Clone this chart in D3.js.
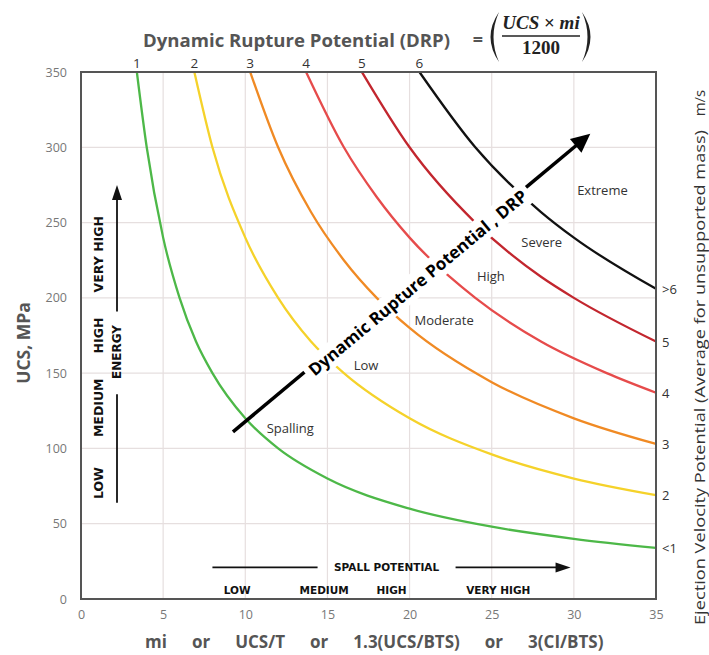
<!DOCTYPE html>
<html>
<head>
<meta charset="utf-8">
<script src="https://cdn.jsdelivr.net/npm/d3@7"></script>
<style>
  body { margin: 0; background: #fff; }
  svg { display: block; }
</style>
</head>
<body>
<div id="chart"></div>
<script>
// values (mi, UCS in MPa) for each DRP curve
const mi1 = [3.4, 4, 5, 6, 7, 8, 10, 12, 15, 20, 25, 30, 35];
const ucs1 = [350, 300, 240, 200, 171, 150, 120, 100, 80, 60, 48, 40, 34];
const mi2 = [6.9, 8, 10, 12, 14, 16, 20, 25, 30, 35];
const ucs2 = [350, 300, 240, 200, 171, 150, 120, 96, 80, 69];
const mi3 = [10.3, 12, 14, 16, 18, 20, 25, 30, 35];
const ucs3 = [350, 300, 257, 225, 200, 180, 144, 120, 103];
const mi4 = [13.7, 16, 18, 20, 24, 28, 32, 35];
const ucs4 = [350, 300, 267, 240, 200, 171, 150, 137];
const mi5 = [17.1, 20, 24, 28, 30, 35];
const ucs5 = [350, 300, 250, 214, 200, 171];
const mi6 = [20.6, 24, 28, 30, 35];
const ucs6 = [350, 300, 257, 240, 206];

const drpLabels = ["1", "2", "3", "4", "5", "6"];
const velocityLabels = ["<1", "2", "3", "4", "5", ">6"];
const zoneLabels = ["Spalling", "Low", "Moderate", "High", "Severe", "Extreme"];
const zoneMi = [11.3, 16.6, 20.3, 24.1, 26.8, 30.2];
const zoneUcs = [110, 152, 182, 211, 234, 268];
const xTicks = [0, 5, 10, 15, 20, 25, 30, 35];
const yTicks = [0, 50, 100, 150, 200, 250, 300, 350];
const energyLabels = ["LOW", "MEDIUM", "HIGH", "VERY HIGH"];
const energyUcs = [77, 127, 175, 229];
const spallLabels = ["LOW", "MEDIUM", "HIGH", "VERY HIGH"];
const spallMi = [9.5, 14.8, 18.9, 25.4];
const xTitleParts = ["mi", "or", "UCS/T", "or", "1.3(UCS/BTS)", "or", "3(CI/BTS)"];

const colors = ["#4db848", "#f5d22a", "#f08a24", "#e64b4b", "#c2262e", "#111111"];
const font = "Open Sans";

const dim = { width: 709, height: 655, mLeft: 81, mTop: 72, mRight: 53, mBottom: 56 };
const svg = d3.select("#chart").append("svg")
  .attr("width", dim.width)
  .attr("height", dim.height);

const x = d3.scaleLinear().domain([0, 35]).range([dim.mLeft, dim.width - dim.mRight]);
const y = d3.scaleLinear().domain([0, 350]).range([dim.height - dim.mBottom, dim.mTop]);

// grid
svg.append("g").selectAll("line.v").data(xTicks.slice(1, -1)).enter().append("line")
  .attr("x1", d => x(d)).attr("x2", d => x(d))
  .attr("y1", y(0)).attr("y2", y(350))
  .style("stroke", "#e6dfdf").style("stroke-width", 1.2);
svg.append("g").selectAll("line.h").data(yTicks.slice(1, -1)).enter().append("line")
  .attr("x1", x(0)).attr("x2", x(35))
  .attr("y1", d => y(d)).attr("y2", d => y(d))
  .style("stroke", "#e6dfdf").style("stroke-width", 1.2);

// axes (labels only)
const xAxis = svg.append("g")
  .attr("transform", "translate(0," + y(0) + ")")
  .call(d3.axisBottom(x).tickValues(xTicks).tickSize(0).tickPadding(11));
const yAxis = svg.append("g")
  .attr("transform", "translate(" + x(0) + ",0)")
  .call(d3.axisLeft(y).tickValues(yTicks).tickSize(0).tickPadding(14));
[xAxis, yAxis].forEach(a => {
  a.select(".domain").remove();
  a.selectAll("text").style("font-family", font).style("font-size", "12.5px").style("fill", "#777");
});

// curves
const series = [[mi1, ucs1], [mi2, ucs2], [mi3, ucs3], [mi4, ucs4], [mi5, ucs5], [mi6, ucs6]];
const line = d3.line().x(d => x(d[0])).y(d => y(d[1])).curve(d3.curveMonotoneX);
series.forEach(function (s, i) {
  const pts = s[0].map((m, j) => [m, s[1][j]]);
  svg.append("path").datum(pts)
    .attr("d", line)
    .style("fill", "none")
    .style("stroke", colors[i])
    .style("stroke-width", 2.3);
  // DRP number above the plot
  svg.append("text")
    .attr("x", x(pts[0][0]))
    .attr("y", y(350) - 4)
    .attr("text-anchor", "middle")
    .text(drpLabels[i])
    .style("font-family", font).style("font-size", "13.5px").style("fill", "#333");
  // velocity label on the right
  const last = pts[pts.length - 1];
  svg.append("text")
    .attr("x", x(last[0]) + 6)
    .attr("y", y(last[1]) + 5)
    .text(velocityLabels[i])
    .style("font-family", font).style("font-size", "13px").style("fill", "#333");
});

// zone labels
svg.append("g").selectAll("text").data(zoneLabels).enter().append("text")
  .attr("x", (d, i) => x(zoneMi[i]))
  .attr("y", (d, i) => y(zoneUcs[i]))
  .text(d => d)
  .style("font-family", font).style("font-size", "13px").style("fill", "#333");

// plot frame
svg.append("rect")
  .attr("x", x(0)).attr("y", y(350))
  .attr("width", x(35) - x(0)).attr("height", y(0) - y(350))
  .style("fill", "none").style("stroke", "#555").style("stroke-width", 2);

// diagonal DRP arrow
const a0 = [x(9.25), y(111)];
const a1 = [x(31.0), y(309)];
const rad = Math.atan2(a1[1] - a0[1], a1[0] - a0[0]);
const ang = rad * 180 / Math.PI;
const hl = 19;
const lineEnd = [a1[0] - Math.cos(rad) * hl * 0.8, a1[1] - Math.sin(rad) * hl * 0.8];
svg.append("line")
  .attr("x1", a0[0]).attr("y1", a0[1]).attr("x2", lineEnd[0]).attr("y2", lineEnd[1])
  .style("stroke", "#000").style("stroke-width", 3.5);
svg.append("path")
  .attr("d", "M0,0 L" + (-hl) + "," + (-9) + " L" + (-hl) + "," + 9 + " Z")
  .attr("transform", "translate(" + a1[0] + "," + a1[1] + ") rotate(" + ang + ")")
  .style("fill", "#000");
const mid = [x(20.5), y(210)];
const diag = svg.append("g")
  .attr("transform", "translate(" + mid[0] + "," + mid[1] + ") rotate(" + ang + ")");
const diagText = diag.append("text")
  .attr("text-anchor", "middle")
  .attr("y", 6)
  .text("Dynamic Rupture Potential , DRP")
  .style("font-family", font).style("font-weight", "bold").style("font-size", "17px").style("fill", "#000");
const bb = diagText.node().getBBox();
diag.insert("rect", "text")
  .attr("x", bb.x - 5).attr("y", -12)
  .attr("width", bb.width + 10).attr("height", 24)
  .style("fill", "#fff");

// energy annotation on the left
const energy = svg.append("g");
energy.selectAll("text").data(energyLabels).enter().append("text")
  .attr("transform", (d, i) => "translate(103," + y(energyUcs[i]) + ") rotate(-90)")
  .attr("text-anchor", "middle")
  .text(d => d)
  .style("font-family", "DejaVu Sans").style("font-weight", "bold").style("font-size", "12.5px").style("fill", "#111");
energy.append("line").attr("x1", 117).attr("x2", 117).attr("y1", y(64)).attr("y2", y(136))
  .style("stroke", "#111").style("stroke-width", 1.8);
energy.append("line").attr("x1", 117).attr("x2", 117).attr("y1", y(191)).attr("y2", y(266))
  .style("stroke", "#111").style("stroke-width", 1.8);
energy.append("path")
  .attr("d", "M117," + y(275) + " L112," + (y(275) + 15) + " L122," + (y(275) + 15) + " Z")
  .style("fill", "#111");
energy.append("text")
  .attr("transform", "translate(121," + y(164) + ") rotate(-90)")
  .attr("text-anchor", "middle")
  .text("ENERGY")
  .style("font-family", "DejaVu Sans").style("font-weight", "bold").style("font-size", "12px").style("fill", "#111");

// spall annotation at the bottom
const spallY = y(21);
const spall = svg.append("g");
spall.append("line").attr("x1", x(8)).attr("x2", x(14.4)).attr("y1", spallY).attr("y2", spallY)
  .style("stroke", "#111").style("stroke-width", 1.8);
spall.append("line").attr("x1", x(22.8)).attr("x2", x(29.2)).attr("y1", spallY).attr("y2", spallY)
  .style("stroke", "#111").style("stroke-width", 1.8);
spall.append("path")
  .attr("d", "M" + x(29.8) + "," + spallY + " L" + (x(29.8) - 15) + "," + (spallY - 5) + " L" + (x(29.8) - 15) + "," + (spallY + 5) + " Z")
  .style("fill", "#111");
spall.append("text")
  .attr("x", x(18.6)).attr("y", spallY + 4)
  .attr("text-anchor", "middle")
  .text("SPALL POTENTIAL")
  .style("font-family", "DejaVu Sans").style("font-weight", "bold").style("font-size", "10.5px").style("fill", "#111");
spall.selectAll("text.lv").data(spallLabels).enter().append("text")
  .attr("x", (d, i) => x(spallMi[i]))
  .attr("y", y(3))
  .attr("text-anchor", "middle")
  .text(d => d)
  .style("font-family", "DejaVu Sans").style("font-weight", "bold").style("font-size", "10.5px").style("fill", "#111");

// titles
svg.append("text")
  .attr("x", 143).attr("y", 47)
  .attr("textLength", 307).attr("lengthAdjust", "spacingAndGlyphs")
  .text("Dynamic Rupture Potential (DRP)")
  .style("font-family", font).style("font-weight", "bold").style("font-size", "17px").style("fill", "#555");
svg.append("text")
  .attr("x", 478).attr("y", 46).attr("text-anchor", "middle")
  .text("=")
  .style("font-family", font).style("font-weight", "bold").style("font-size", "18px").style("fill", "#555");
// formula
const f = svg.append("g");
f.append("path").attr("d", "M499,12 Q482,37 499,62 Q488,37 499,12 Z").style("fill", "#222");
f.append("path").attr("d", "M582,12 Q599,37 582,62 Q593,37 582,12 Z").style("fill", "#222");
const num = f.append("text").attr("x", 541).attr("y", 29).attr("text-anchor", "middle")
  .style("font-family", "Liberation Serif").style("font-weight", "bold").style("font-size", "19px").style("fill", "#222");
num.append("tspan").text("UCS").style("font-style", "italic");
num.append("tspan").text(" × ");
num.append("tspan").text("mi").style("font-style", "italic");
f.append("line").attr("x1", 502).attr("x2", 580).attr("y1", 36).attr("y2", 36)
  .style("stroke", "#222").style("stroke-width", 1.6);
f.append("text").attr("x", 541).attr("y", 54).attr("text-anchor", "middle")
  .text("1200")
  .style("font-family", "Liberation Serif").style("font-weight", "bold").style("font-size", "19px").style("fill", "#222");

svg.append("text")
  .attr("transform", "translate(30," + 343 + ") rotate(-90)")
  .attr("text-anchor", "middle")
  .text("UCS, MPa")
  .style("font-family", font).style("font-weight", "bold").style("font-size", "17.5px").style("fill", "#555");

// x title: words laid out left to right with wide gaps
const xTitle = svg.append("text")
  .attr("x", 145).attr("y", 648)
  .style("font-family", font).style("font-weight", "bold").style("font-size", "17px").style("fill", "#555");
xTitleParts.forEach(function (p, i) {
  xTitle.append("tspan").attr("dx", i === 0 ? 0 : 25).text(p);
});

svg.append("text")
  .attr("transform", "translate(705,625) rotate(-90)")
  .attr("textLength", 495).attr("lengthAdjust", "spacingAndGlyphs")
  .text("Ejection Velocity Potential (Average for unsupported mass)")
  .style("font-family", font).style("font-size", "15px").style("fill", "#333");
svg.append("text")
  .attr("transform", "translate(705,103) rotate(-90)")
  .attr("text-anchor", "middle")
  .text("m/s")
  .style("font-family", font).style("font-size", "15px").style("fill", "#333");
</script>
</body>
</html>
